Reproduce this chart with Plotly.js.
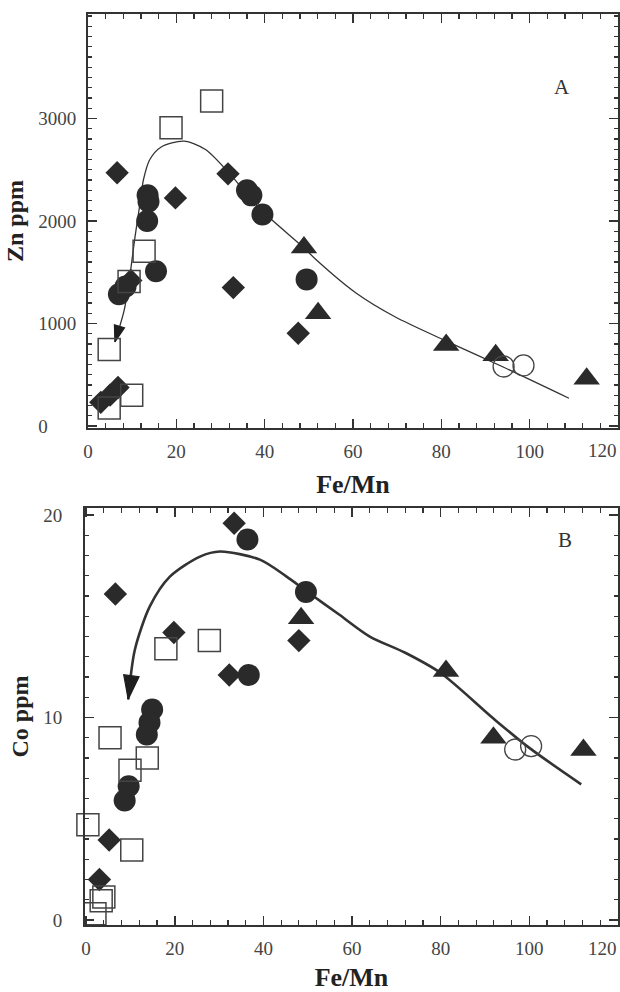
<!DOCTYPE html>
<html><head><meta charset="utf-8">
<script src="https://cdn.plot.ly/plotly-3.0.1.min.js"></script>
<style>html,body{margin:0;padding:0;background:#fff}</style>
</head><body><div id="chart" style="width:620px;height:992px"></div>
<script>
// ---------- Panel A : Zn ppm vs Fe/Mn ----------
const sqX_A = [28.0, 18.8, 12.7, 9.3, 4.8, 9.9, 4.8];
const sqY_A = [3170, 2910, 1705, 1410, 745, 300, 175];
const diaX_A = [6.6, 19.8, 31.7, 32.9, 47.6, 9.7, 2.9, 5.0, 6.8];
const diaY_A = [2470, 2225, 2460, 1350, 905, 1420, 230, 300, 375];
const cirX_A = [13.5, 13.7, 13.4, 36.0, 37.0, 39.5, 15.4, 7.0, 8.5, 49.5];
const cirY_A = [2250, 2190, 2000, 2300, 2250, 2063, 1510, 1285, 1360, 1430];
const triX_A = [48.9, 52.1, 81.1, 92.3, 112.9];
const triY_A = [1740, 1100, 790, 690, 460];
const ocX_A = [94.1, 98.6];
const ocY_A = [580, 590];
const curveX_A = [108.9, 94, 81, 69.5, 60.6, 51.6, 48.9, 39.1, 31.9, 26.6, 21.7, 16.5, 14.0, 12.6, 11.7, 10.6, 9.4, 8.2, 6.1];
const curveY_A = [270, 575, 830, 1065, 1300, 1624, 1738, 2112, 2470, 2698, 2779, 2720, 2600, 2410, 2150, 1830, 1440, 1130, 820];

// ---------- Panel B : Co ppm vs Fe/Mn ----------
const sqX_B = [27.8, 18.0, 5.4, 13.8, 9.9, 0.4, 10.3, 4.0, 3.4, 2.0];
const sqY_B = [13.8, 13.4, 9.0, 8.0, 7.4, 4.7, 3.45, 1.13, 0.95, 0.3];
const diaX_B = [33.4, 6.6, 19.8, 48.0, 32.3, 5.2, 3.0];
const diaY_B = [19.6, 16.1, 14.2, 13.8, 12.1, 3.95, 2.0];
const cirX_B = [36.4, 49.6, 36.7, 14.9, 14.3, 13.7, 9.6, 8.7];
const cirY_B = [18.8, 16.2, 12.1, 10.4, 9.75, 9.16, 6.6, 5.9];
const triX_B = [48.5, 81.2, 91.9, 112.2];
const triY_B = [14.9, 12.3, 9.0, 8.4];
const ocX_B = [96.8, 100.4];
const ocY_B = [8.42, 8.59];
const curveX_B = [111.7, 100, 91.9, 80, 72, 64, 57, 50, 45, 39.2, 30.2, 25.7, 18.9, 14.4, 11.0, 9.5];
const curveY_B = [6.7, 8.5, 9.95, 12.2, 13.2, 14.0, 15.1, 16.2, 17.0, 17.8, 18.2, 17.95, 16.96, 15.5, 13.35, 10.9];

// ---------- tick labels ----------
const xTickVals = [0, 20, 40, 60, 80, 100, 120];
const xTickText = ['0', '20', '40', '60', '80', '100', ''];   // last label set at the frame edge below
const xEdgeLabel = '120';
const yTickVals_A = [0, 1000, 2000, 3000];
const yTickText_A = ['0\u2007\u2007\u2007', '1000', '2000', '3000'];
const yTickVals_B = [0, 10, 20];
const yTickText_B = ['0', '10', '20'];

const INK = '#2a2a2a';
const serif = 'Liberation Serif, Times New Roman, serif';

function sc(x, y, xa, ya, marker) {
  return {type: 'scatter', mode: 'markers', x: x, y: y, xaxis: xa, yaxis: ya,
    marker: marker, showlegend: false, cliponaxis: false, hoverinfo: 'x+y'};
}
function curve(x, y, xa, ya, w, head) {
  const n = x.length;
  return {type: 'scatter', mode: 'lines+markers', x: x, y: y, xaxis: xa, yaxis: ya,
    line: {color: '#333', width: w, shape: 'spline', smoothing: 0.8},
    marker: {symbol: x.map((_, i) => i === n - 1 ? 'arrow' : 'circle'),
             size: x.map((_, i) => i === n - 1 ? head : 0),
             angleref: 'previous', color: '#1e1e1e', opacity: 1,
             line: {width: 1.2, color: '#1e1e1e'}},
    showlegend: false, cliponaxis: false, hoverinfo: 'skip'};
}
const mSq = {symbol: 'square-open', size: 22, color: '#444', line: {width: 1.5, color: '#444'}};
const mDia = {symbol: 'diamond', size: 18, color: INK, line: {width: 0}};
const mCir = {symbol: 'circle', size: 22, color: INK, line: {width: 0}};
const mTri = {symbol: 'triangle-up', size: 23, color: INK, line: {width: 0}};
const mOc = {symbol: 'circle-open', size: 21, color: '#444', line: {width: 1.3, color: '#444'}};

const data = [
  curve(curveX_A, curveY_A, 'x', 'y', 1.3, 17),
  sc(diaX_A, diaY_A, 'x', 'y', mDia),
  sc(cirX_A, cirY_A, 'x', 'y', mCir),
  sc(triX_A, triY_A, 'x', 'y', mTri),
  sc(sqX_A, sqY_A, 'x', 'y', mSq),
  sc(ocX_A, ocY_A, 'x', 'y', mOc),
  curve(curveX_B, curveY_B, 'x2', 'y2', 2.6, 25),
  sc(diaX_B, diaY_B, 'x2', 'y2', mDia),
  sc(cirX_B, cirY_B, 'x2', 'y2', mCir),
  sc(triX_B, triY_B, 'x2', 'y2', mTri),
  sc(sqX_B, sqY_B, 'x2', 'y2', mSq),
  sc(ocX_B, ocY_B, 'x2', 'y2', mOc)
];

const tickFont = {family: serif, size: 19, color: '#444'};
const titleFont = {family: serif, size: 26, color: '#222'};
function xax(domain, range, anchor) {
  return {domain: domain, range: range, anchor: anchor,
    tickmode: 'array', tickvals: xTickVals, ticktext: xTickText,
    ticks: 'inside', ticklen: 9, tickwidth: 1.5, tickcolor: '#333',
    minor: {dtick: 4, tick0: 0, ticks: 'inside', ticklen: 5, tickwidth: 1.2, tickcolor: '#333'},
    mirror: 'allticks', showline: true, linewidth: 2, linecolor: '#333',
    showgrid: false, zeroline: false, tickfont: tickFont,
    ticklabelstandoff: 5,
    title: {text: '<b>Fe/Mn</b>', font: titleFont, standoff: 14}};
}
function yax(domain, range, anchor, vals, text, minor, title, standoff) {
  return {domain: domain, range: range, anchor: anchor,
    tickmode: 'array', tickvals: vals, ticktext: text,
    ticks: 'inside', ticklen: 9, tickwidth: 1.5, tickcolor: '#333',
    minor: {dtick: minor, tick0: 0, ticks: 'inside', ticklen: 4, tickwidth: 1.2, tickcolor: '#333'},
    mirror: 'allticks', showline: true, linewidth: 2, linecolor: '#333',
    showgrid: false, zeroline: false, tickfont: tickFont, ticklabelstandoff: standoff,
    ticklabeloverflow: 'allow',
    title: {text: '<b>' + title + '</b>', font: {family: serif, size: 24, color: '#222'}, standoff: 8}};
}
function edgeLabel(xr, yr) {
  return {text: xEdgeLabel, xref: xr, yref: yr, x: 120, y: 0, xanchor: 'right', yanchor: 'middle',
    xshift: 1, yshift: -23, showarrow: false, font: tickFont};
}

const layout = {
  width: 620, height: 992,
  margin: {l: 85, r: 2, t: 14, b: 67},
  paper_bgcolor: '#fff', plot_bgcolor: '#fff',
  font: {family: serif},
  xaxis: xax([0.0056, 1], [0, 120], 'y'),
  yaxis: yax([0.5456, 1], [-20, 4020], 'x', yTickVals_A, yTickText_A, 100, 'Zn ppm', 6),
  xaxis2: xax([0, 1], [-0.25, 120], 'y2'),
  yaxis2: yax([0, 0.4577], [-0.25, 20.35], 'x2', yTickVals_B, yTickText_B, 1, 'Co ppm', 17),
  annotations: [
    {text: 'A', xref: 'x domain', yref: 'y domain', x: 0.894, y: 0.824, showarrow: false,
     xanchor: 'center', yanchor: 'middle',
     font: {family: serif, size: 21, color: '#333'}},
    {text: 'B', xref: 'x2 domain', yref: 'y2 domain', x: 0.9006, y: 0.923, showarrow: false,
     xanchor: 'center', yanchor: 'middle',
     font: {family: serif, size: 21, color: '#333'}},
    edgeLabel('x', 'y domain'),
    edgeLabel('x2', 'y2 domain')
  ]
};

Plotly.newPlot('chart', data, layout, {displayModeBar: false, staticPlot: true});
</script></body></html>
